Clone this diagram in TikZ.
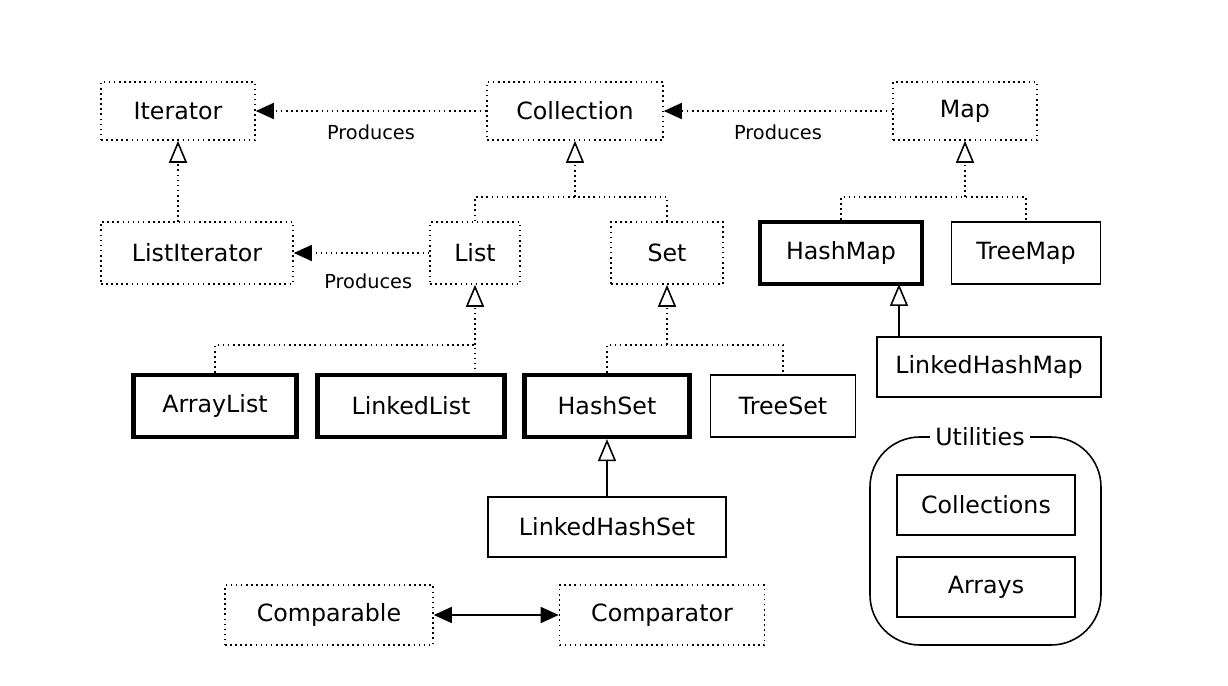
\documentclass[tikz,border=0pt]{standalone}
\usepackage{fontspec}
\setmainfont{DejaVu Sans}
\usetikzlibrary{arrows.meta}
\begin{document}
\begin{tikzpicture}[x=0.02cm,y=-0.02cm,
  box/.style={draw,inner sep=0pt,font=\fontsize{13.5}{16}\selectfont},
  dot/.style={box,dotted,line width=0.9pt},
  sol/.style={box,line width=0.9pt},
  thk/.style={box,line width=2.4pt},
  dl/.style={dotted,line width=0.9pt},
  lab/.style={font=\fontsize{11}{13}\selectfont},
  inh/.style={-{Triangle[open,length=0.44cm,width=0.36cm,line width=0.9pt]}},
  prod/.style={dl,-{Triangle[length=0.36cm,width=0.32cm]}}]
\useasboundingbox (0,0) rectangle (1228,686);
\node[dot,minimum width=154*0.02cm,minimum height=58*0.02cm] (it) at (178,111) {Iterator};
\node[dot,minimum width=176*0.02cm,minimum height=58*0.02cm] (col) at (575,111) {Collection};
\node[dot,minimum width=144*0.02cm,minimum height=58*0.02cm] (map) at (965,111) {Map};
\node[dot,minimum width=192*0.02cm,minimum height=62*0.02cm] (lit) at (197,253) {ListIterator};
\coordinate (litt) at (178,222);
\node[dot,minimum width=90*0.02cm,minimum height=62*0.02cm] (list) at (475,253) {List};
\node[dot,minimum width=112*0.02cm,minimum height=62*0.02cm] (set) at (667,253) {Set};
\node[thk,minimum width=162*0.02cm,minimum height=62*0.02cm] (hm) at (841,253) {HashMap};
\node[sol,minimum width=149*0.02cm,minimum height=62*0.02cm] (tm) at (1026,253) {TreeMap};
\node[sol,minimum width=224*0.02cm,minimum height=60*0.02cm] (lhm) at (989,367) {LinkedHashMap};
\node[thk,minimum width=163*0.02cm,minimum height=62*0.02cm] (al) at (215,406) {ArrayList};
\node[thk,minimum width=187*0.02cm,minimum height=62*0.02cm] (ll) at (411,406) {LinkedList};
\node[thk,minimum width=165*0.02cm,minimum height=62*0.02cm] (hs) at (607,406) {HashSet};
\node[sol,minimum width=145*0.02cm,minimum height=62*0.02cm] (ts) at (783,406) {TreeSet};
\node[sol,minimum width=238*0.02cm,minimum height=60*0.02cm] (lhs) at (607,527) {LinkedHashSet};
\node[dot,minimum width=208*0.02cm,minimum height=60*0.02cm] (cmp) at (329,615) {Comparable};
\node[dot,minimum width=205*0.02cm,minimum height=60*0.02cm] (cmt) at (662,615) {Comparator};
\draw[line width=0.9pt,rounded corners=1cm] (870,437) rectangle (1101,645);
\node[fill=white,inner sep=3pt,font=\fontsize{13.5}{16}\selectfont] (ut) at (980,437) {Utilities};
\node[sol,minimum width=178*0.02cm,minimum height=60*0.02cm] (cols) at (986,505) {Collections};
\node[sol,minimum width=178*0.02cm,minimum height=60*0.02cm] (arr) at (986,587) {Arrays};
% produces
\draw[prod] (col) -- (it) node[lab,pos=0.5,below=4pt] {Produces};
\draw[prod] (map) -- (col) node[lab,pos=0.5,below=4pt] {Produces};
\draw[prod] (list) -- (lit) node[lab,pos=0.45,below=8pt] {Produces};
% inheritance
\draw[dl,inh] (litt) -- (it.south);
\draw[dl] (list.north) -- (475,197) -- (667,197) -- (set.north);
\draw[dl,inh] (575,197) -- (col.south);
\draw[dl] (hm.north) -- (841,197) -- (1026,197) -- (tm.north);
\draw[dl,inh] (965,197) -- (map.south);
\draw[dl] (al.north) -- (215,345) -- (475,345) -- (475,375);
\draw[dl,inh] (475,345) -- (list.south);
\draw[dl] (hs.north) -- (607,345) -- (783,345) -- (ts.north);
\draw[dl,inh] (667,345) -- (set.south);
\draw[line width=0.9pt,inh] (899,337) -- (899,284);
\draw[line width=0.9pt,inh] (lhs.north) -- (hs.south);
\draw[line width=0.9pt,{Triangle[length=0.36cm,width=0.32cm]}-{Triangle[length=0.36cm,width=0.32cm]}] (cmp) -- (cmt);
\end{tikzpicture}
\end{document}
